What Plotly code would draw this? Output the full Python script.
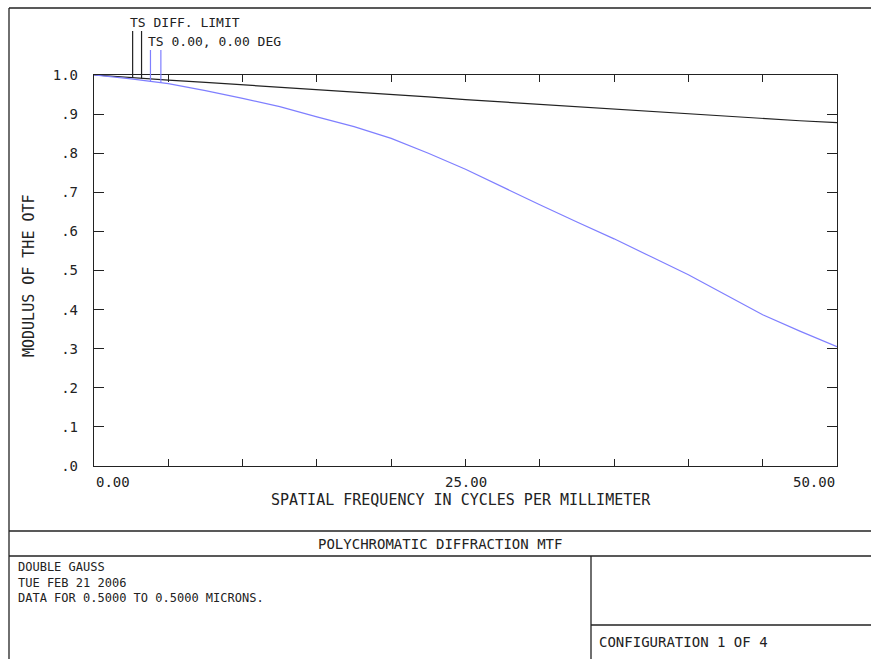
import plotly.graph_objects as go

# ---------------- data ----------------
freq = [0, 2.5, 5, 7.5, 10, 12.5, 15, 17.5, 20, 22.5, 25,
        27.5, 30, 32.5, 35, 37.5, 40, 42.5, 45, 47.5, 50]
diff_limit = [1.000, 0.993, 0.987, 0.981, 0.975, 0.969, 0.962, 0.956, 0.950, 0.944, 0.937,
              0.931, 0.925, 0.918, 0.912, 0.906, 0.900, 0.894, 0.888, 0.883, 0.878]
ts_0deg = [1.000, 0.990, 0.978, 0.960, 0.940, 0.919, 0.893, 0.868, 0.838, 0.800, 0.759,
           0.713, 0.668, 0.624, 0.581, 0.535, 0.489, 0.438, 0.387, 0.345, 0.305]
y_tickvals = [0.0, 0.1, 0.2, 0.3, 0.4, 0.5, 0.6, 0.7, 0.8, 0.9, 1.0]
y_ticktext = [".0", ".1", ".2", ".3", ".4", ".5", ".6", ".7", ".8", ".9", "1.0"]
x_minor_ticks = [5, 10, 15, 20, 25, 30, 35, 40, 45]
x_labels = [(0, "0.00"), (25, "25.00"), (50, "50.00")]
legend_names = ["TS DIFF. LIMIT", "TS 0.00, 0.00 DEG"]
legend_marker_freqs = [[2.6, 3.2], [3.8, 4.5]]
title_text = "POLYCHROMATIC DIFFRACTION MTF"
info_lines = ["DOUBLE GAUSS", "TUE FEB 21 2006", "DATA FOR 0.5000 TO 0.5000 MICRONS."]
config_text = "CONFIGURATION 1 OF 4"
x_title = "SPATIAL FREQUENCY IN CYCLES PER MILLIMETER"
y_title = "MODULUS OF THE OTF"

X_MAX = 50.0
W, H = 871, 659
PL, PR, PT, PB = 94, 837, 75, 466   # plot area in pixels
FONT = "DejaVu Sans Mono"
INK = "#222222"
BLUE = "#7f7fff"


def px(x):
    return (x - PL) / (PR - PL)


def py(y):
    return (PB - y) / (PB - PT)


fig = go.Figure()
fig.add_trace(go.Scatter(x=freq, y=diff_limit, mode="lines", name=legend_names[0],
                         line=dict(color=INK, width=1.2), showlegend=False))
fig.add_trace(go.Scatter(x=freq, y=ts_0deg, mode="lines", name=legend_names[1],
                         line=dict(color=BLUE, width=1.2), showlegend=False))

shapes = []


def seg(x0, y0, x1, y1, color=INK, width=1.3):
    shapes.append(dict(type="line", xref="paper", yref="paper",
                       x0=px(x0), y0=py(y0), x1=px(x1), y1=py(y1),
                       line=dict(color=color, width=width)))


# outer frame and info boxes
seg(9, 8, 880, 8)
seg(9, 8, 9, 670)
seg(9, 531, 880, 531)
seg(9, 556, 880, 556)
seg(591, 556, 591, 670)
seg(591, 625, 880, 625)

# legend leader lines
curves = [diff_limit, ts_0deg]
tops = [31, 50]
colors = [INK, BLUE]
for i, fs in enumerate(legend_marker_freqs):
    for f in fs:
        v = curves[i][0]
        for k in range(len(freq) - 1):
            if freq[k] <= f <= freq[k + 1]:
                t = (f - freq[k]) / (freq[k + 1] - freq[k])
                v = curves[i][k] + t * (curves[i][k + 1] - curves[i][k])
                break
        shapes.append(dict(type="line", xref="paper", yref="paper",
                           x0=f / X_MAX, x1=f / X_MAX, y0=v, y1=py(tops[i]),
                           line=dict(color=colors[i], width=1.2)))

ann = []


def text(x, y, s, xanchor="left", size=14, angle=0, yanchor="middle"):
    ann.append(dict(xref="paper", yref="paper", x=px(x), y=py(y), text=s,
                    showarrow=False, xanchor=xanchor, yanchor=yanchor,
                    textangle=angle, font=dict(family=FONT, size=size, color=INK)))


text(128, 22, legend_names[0], size=13)
text(146, 41, legend_names[1], size=13)
for f, s in x_labels:
    xa = "left" if f == 0 else ("right" if f == X_MAX else "center")
    ann.append(dict(xref="x", yref="paper", x=f, y=py(482), text=s, showarrow=False,
                    xanchor=xa, yanchor="middle",
                    font=dict(family=FONT, size=14, color=INK)))
text(461, 500, x_title, xanchor="center", size=15)
text(29, 276, y_title, xanchor="center", size=15, angle=-90)
text(440, 544, title_text, xanchor="center", size=14)
ann.append(dict(xref="paper", yref="paper", x=px(16), y=py(558), text="<br>".join(info_lines),
                showarrow=False, xanchor="left", yanchor="top", align="left",
                font=dict(family=FONT, size=12, color=INK)))
text(597, 642, config_text, size=14)

fig.update_layout(
    width=W, height=H,
    margin=dict(l=PL, r=W - PR, t=PT, b=H - PB, pad=0),
    paper_bgcolor="white", plot_bgcolor="white",
    shapes=shapes, annotations=ann, showlegend=False,
    xaxis=dict(range=[0, X_MAX], tickvals=x_minor_ticks, showticklabels=False,
               ticks="inside", ticklen=7, tickcolor=INK, tickwidth=1.3,
               showline=True, linecolor=INK, linewidth=1.3, mirror="ticks",
               showgrid=False, zeroline=False, fixedrange=True),
    yaxis=dict(range=[0, 1.0], tickvals=y_tickvals, ticktext=y_ticktext,
               ticks="inside", ticklen=10, tickcolor=INK, tickwidth=1.3,
               showline=True, linecolor=INK, linewidth=1.3, mirror="ticks",
               showgrid=False, zeroline=False, fixedrange=True,
               ticklabelstandoff=12,
               tickfont=dict(family=FONT, size=14, color=INK)),
)

fig.write_html("out.html", config={"displayModeBar": False},
               post_script="document.body.style.margin='0px';document.body.style.overflow='hidden';")
